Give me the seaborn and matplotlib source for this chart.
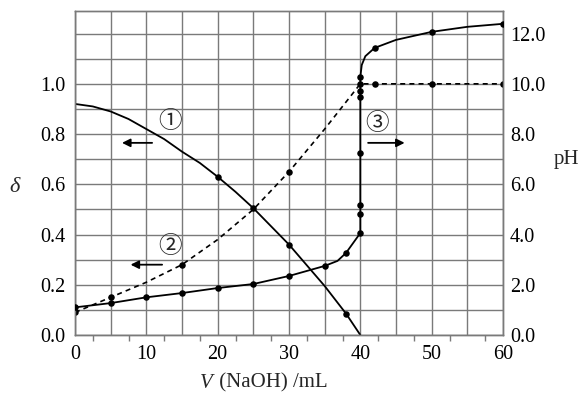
import numpy as np
import pandas as pd
import matplotlib
matplotlib.use("Agg")
import matplotlib.pyplot as plt
import seaborn as sns

# curve 1: delta(HA), solid
v1 = [0, 2.5, 5, 7.5, 10, 12.5, 15, 17.5, 20, 22.5, 25, 30, 35, 38, 40]
d1 = [0.92, 0.91, 0.89, 0.86, 0.82, 0.78, 0.73, 0.685, 0.63, 0.57, 0.505, 0.36, 0.195, 0.085, 0.0]
v1_pts = [20, 25, 30, 38]
d1_pts = [0.63, 0.505, 0.36, 0.085]

# curve 2: delta(A-), dashed
v2 = [0, 5, 10, 15, 20, 25, 30, 35, 40, 60]
d2 = [0.09, 0.15, 0.21, 0.28, 0.38, 0.5, 0.65, 0.82, 1.0, 1.0]
v2_pts = [0, 5, 15, 30, 40, 42, 50, 60]
d2_pts = [0.09, 0.15, 0.28, 0.65, 1.0, 1.0, 1.0, 1.0]

# curve 3: pH, solid (right axis)
v3 = [0, 5, 10, 15, 20, 25, 30, 35, 36.8, 38, 40, 40, 40.2, 40.7, 42, 45, 50, 55, 60]
ph3 = [1.1, 1.27, 1.5, 1.67, 1.87, 2.03, 2.35, 2.75, 2.95, 3.27, 4.06, 10.28, 10.75, 11.1, 11.43, 11.75, 12.07, 12.27, 12.39]
v3_pts = [0, 5, 10, 15, 20, 25, 30, 35, 38, 40, 40, 40, 40, 40, 40, 40, 42, 50, 60]
ph3_pts = [1.1, 1.27, 1.5, 1.67, 1.87, 2.03, 2.35, 2.75, 3.27, 4.06, 4.82, 5.18, 7.25, 9.47, 9.7, 10.28, 11.43, 12.07, 12.39]

sns.set_theme(style="white")
plt.rcParams['font.family'] = ['Liberation Serif', 'Noto Sans CJK SC', 'DejaVu Sans']

fig = plt.figure(figsize=(5.82, 3.96), dpi=100)
ax = fig.add_axes([75/582, 61/396, 428/582, 324/396])
ax2 = ax.twinx()

grey = '#7a7a7a'
ax.set_xlim(0, 60)
ax.set_ylim(0, 1.29)
ax2.set_ylim(0, 12.9)

ax.set_xticks(np.arange(0, 61, 5))
ax.set_xticklabels([str(int(t)) if t % 10 == 0 else '' for t in np.arange(0, 61, 5)])
ax.set_xticks(np.arange(0, 61, 2.5), minor=True)
ax.set_yticks(np.arange(0, 1.25, 0.1))
ax.set_yticklabels(['%.1f' % t if i % 2 == 0 and t < 1.1 else '' for i, t in enumerate(np.arange(0, 1.25, 0.1))])
ax2.set_yticks(np.arange(0, 12.1, 2))
ax2.set_yticklabels(['%.1f' % t for t in np.arange(0, 12.1, 2)])

ax.grid(True, which='major', color=grey, lw=1.0)
ax.tick_params(axis='x', which='major', direction='out', length=6, color=grey, width=1.0,
               labelsize=14.5, labelcolor='black', pad=1)
ax.tick_params(axis='x', which='minor', direction='out', length=4, color=grey, width=1.0, bottom=True)
ax.tick_params(axis='y', length=0, labelsize=14.5, labelcolor='black', pad=7)
ax2.tick_params(axis='y', length=0, labelsize=14.5, labelcolor='black', pad=5)
for a in (ax, ax2):
    for s in a.spines.values():
        s.set_color(grey)
        s.set_linewidth(1.0)

df1 = pd.DataFrame({'V': v1, 'd': d1})
df2 = pd.DataFrame({'V': v2, 'd': d2})
df3 = pd.DataFrame({'V': v3, 'pH': ph3})
sns.lineplot(data=df1, x='V', y='d', ax=ax, color='black', lw=1.3, sort=False, estimator=None)
sns.lineplot(data=df2, x='V', y='d', ax=ax, color='black', lw=1.2, sort=False, estimator=None,
             linestyle=(0, (3, 2.5)))
sns.lineplot(data=df3, x='V', y='pH', ax=ax2, color='black', lw=1.3, sort=False, estimator=None)
sns.scatterplot(x=v1_pts, y=d1_pts, ax=ax, color='black', s=22, linewidth=0, zorder=5)
sns.scatterplot(x=v2_pts, y=d2_pts, ax=ax, color='black', s=22, linewidth=0, zorder=5)
sns.scatterplot(x=v3_pts, y=ph3_pts, ax=ax2, color='black', s=22, linewidth=0, zorder=5)

ax.set_xlabel('')
ax.set_ylabel('')
ax2.set_ylabel('')
ax2.set_ylim(0, 12.9)

# annotations
ax.text(13.3, 0.85, '①', fontsize=17, ha='center', va='center')
ax.annotate('', xy=(6.2, 0.765), xytext=(11.2, 0.765),
            arrowprops=dict(arrowstyle='-|>', color='black', lw=1.3, mutation_scale=12))
ax.text(13.3, 0.35, '②', fontsize=17, ha='center', va='center')
ax.annotate('', xy=(7.4, 0.28), xytext=(12.6, 0.28),
            arrowprops=dict(arrowstyle='-|>', color='black', lw=1.3, mutation_scale=12))
ax.text(42.4, 0.84, '③', fontsize=17, ha='center', va='center')
ax.annotate('', xy=(46.6, 0.765), xytext=(40.7, 0.765),
            arrowprops=dict(arrowstyle='-|>', color='black', lw=1.3, mutation_scale=12))

fig.text(15/582, 1 - 188/396, 'δ', fontsize=16, style='italic', ha='center', va='center')
fig.text(566/582, 1 - 160/396, 'pH', fontsize=15, ha='center', va='center')
fig.text(213/582, 1 - 383/396, 'V', fontsize=15, style='italic', ha='right', va='center')
fig.text(214/582, 1 - 383/396, ' (NaOH) /mL', fontsize=15, ha='left', va='center')

fig.savefig('out.png', dpi=100)
